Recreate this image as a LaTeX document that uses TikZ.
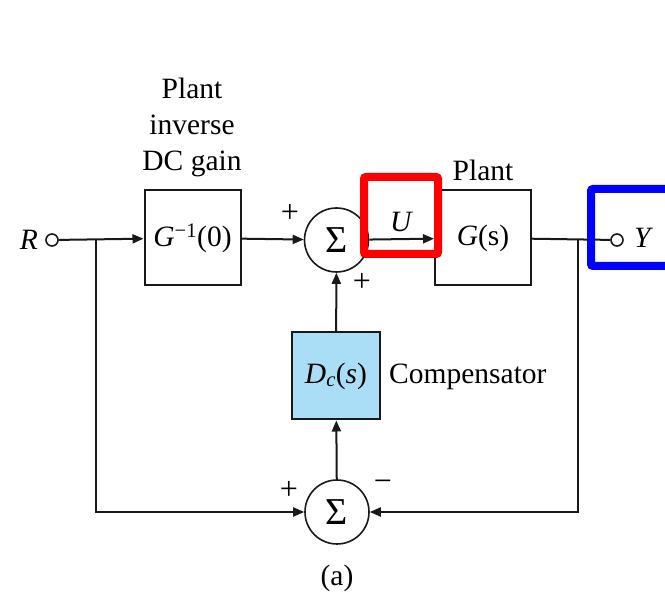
\documentclass[tikz,border=0pt]{standalone}
\usepackage{fontspec}
\setmainfont{Liberation Serif}
\usetikzlibrary{arrows.meta}
\definecolor{dcfill}{RGB}{170,221,246}
\definecolor{hlred}{RGB}{255,0,0}
\definecolor{hlblue}{RGB}{0,0,255}
\begin{document}
\begin{tikzpicture}[x=1pt,y=-1pt,
  every node/.style={font=\fontsize{29.5}{33}\selectfont, inner sep=0pt},
  blk/.style={draw=black!90, line width=2pt, minimum width=96pt, minimum height=95pt},
  sumnode/.style={draw=black!90, circle, line width=1.6pt, minimum size=64pt, font=\fontsize{38}{40}\selectfont},
  port/.style={draw=black!90, circle, line width=1.6pt, minimum size=12pt},
  sign/.style={font=\fontsize{32}{34}\selectfont},
  wire/.style={line width=2pt, draw=black!90},
  arr/.style={wire, -{Triangle[length=11pt,width=9pt]}},
  hl/.style={line width=8pt, rounded corners=2pt}]
\clip (0,0) rectangle (665,593);
\fill[white] (0,0) rectangle (665,593);
% ports
\node[port] (rin) at (52,240) {};
\node[anchor=east] (rlab) at (38,240) {\textit{R}};
\node[port] (yout) at (617,240) {};
\node[anchor=west] (ylab) at (634,238) {\textit{Y}};
% blocks
\node[blk] (ginv) at (192.5,238) {\textit{G}\textsuperscript{−1}(0)};
\node[sumnode] (s1) at (336.5,240) {Σ};
\node[blk] (plant) at (483,238) {\textit{G}(s)};
\node[blk, fill=dcfill, minimum width=88pt, minimum height=87pt] (dc) at (336,376) {\textit{D\textsubscript{c}}(\textit{s})};
\node[sumnode] (s2) at (337,512) {Σ};
% labels
\node[align=center, font=\fontsize{29.5}{36}\selectfont] (pinv) at (192,127) {Plant\\inverse\\DC gain};
\node (plab) at (483,170) {Plant};
\node[anchor=west] (comp) at (389,377) {Compensator};
\node (cap) at (337,578) {(a)};
\node[sign] (p1) at (290,213) {+};
\node[sign] (p2) at (362,282) {+};
\node[sign] (p3) at (289,490) {+};
\node[sign] (m1) at (383,486) {−};
% branch points
\coordinate (b1) at (96,240);
\coordinate (b2) at (578,240);
% connectors
\draw[arr] (rin) -- (ginv);
\draw[arr] (ginv) -- (s1);
\draw[arr] (s1) -- node[above=6pt] (ulab) {\textit{U}} (plant);
\draw[wire] (plant) -- (yout);
\draw[arr] (dc) -- (s1);
\draw[arr] (s2) -- (dc);
\draw[arr] (b1) |- (s2);
\draw[arr] (b2) |- (s2);
% highlight boxes
\draw[hl, draw=hlred] (364,177) rectangle (438,254);
\draw[hl, draw=hlblue] (591,189) rectangle (672,266);
\end{tikzpicture}
\end{document}
